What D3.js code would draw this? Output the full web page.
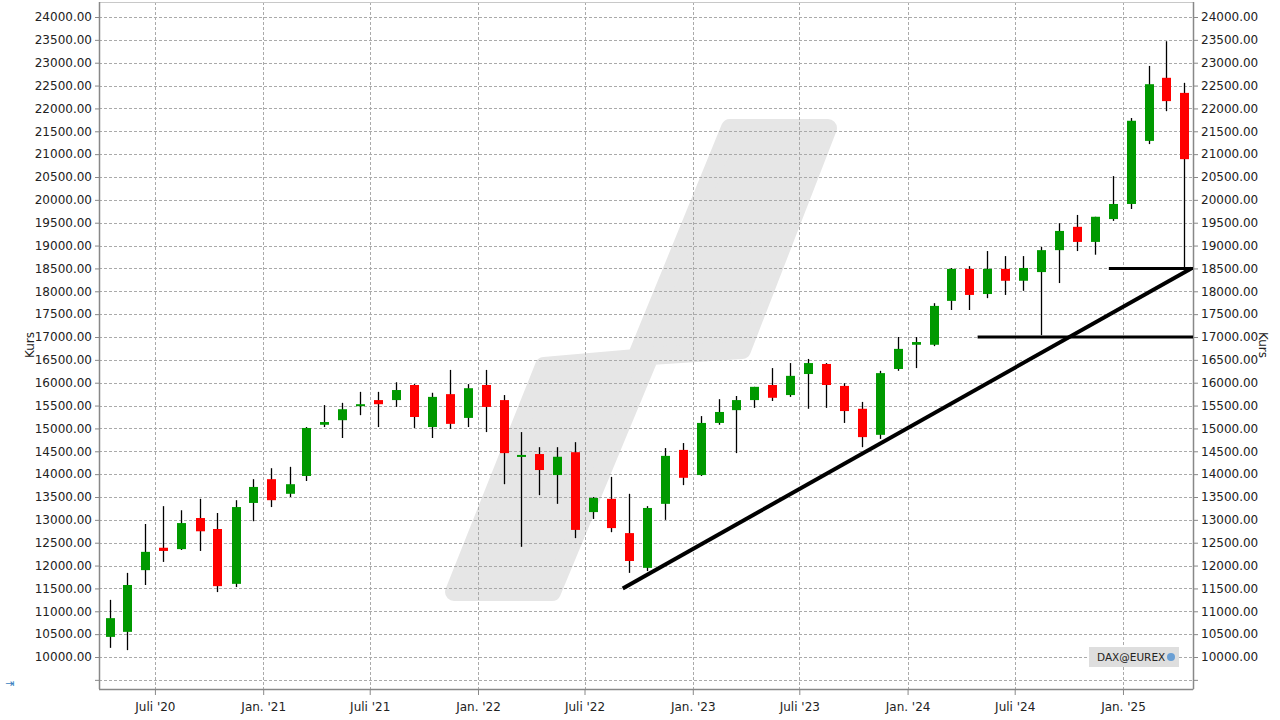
<!DOCTYPE html>
<html><head><meta charset="utf-8">
<script src="https://cdn.jsdelivr.net/npm/d3@7"></script>
<style>body{margin:0;background:#fff}text{font-family:"DejaVu Sans",sans-serif}</style>
</head><body><svg id="c" width="1280" height="720"></svg>
<script>
const months = ["2020-04","2020-05","2020-06","2020-07","2020-08","2020-09","2020-10","2020-11","2020-12",
"2021-01","2021-02","2021-03","2021-04","2021-05","2021-06","2021-07","2021-08","2021-09","2021-10","2021-11","2021-12",
"2022-01","2022-02","2022-03","2022-04","2022-05","2022-06","2022-07","2022-08","2022-09","2022-10","2022-11","2022-12",
"2023-01","2023-02","2023-03","2023-04","2023-05","2023-06","2023-07","2023-08","2023-09","2023-10","2023-11","2023-12",
"2024-01","2024-02","2024-03","2024-04","2024-05","2024-06","2024-07","2024-08","2024-09","2024-10","2024-11","2024-12",
"2025-01","2025-02","2025-03","2025-04"];
const open  = [10440,10550,11900,12390,12360,13040,12800,11600,13370,13890,13570,13960,15080,15180,15490,15620,15620,15950,15030,15750,15230,15950,15620,14380,14440,13980,14480,13170,13460,12710,11950,13350,14530,13980,15120,15400,15620,15950,15730,16190,16410,15930,15430,14860,16300,16830,16830,17790,18490,17940,18490,18230,18420,18900,19410,19080,19580,19910,21290,22670,22340];
const close = [10850,11575,12300,12320,12930,12750,11550,13280,13720,13430,13780,15010,15140,15420,15530,15530,15840,15250,15690,15100,15880,15470,14460,14420,14090,14380,12780,13480,12820,12100,13260,14400,13920,15120,15360,15620,15910,15670,16150,16430,15950,15380,14810,16210,16740,16890,17680,18490,17920,18490,18230,18510,18900,19320,19080,19630,19910,21730,22530,22160,20890];
const high  = [11250,11840,12910,13300,13210,13460,13150,13430,13890,14130,14160,15030,15510,15560,15800,15800,16010,15970,15780,16280,15970,16280,15730,14920,14590,14590,14700,13500,13940,13570,13300,14570,14680,15270,15640,15710,15910,16320,16430,16520,16430,15990,15580,16260,17000,17000,17740,18510,18550,18880,18770,18770,18970,19490,19670,19630,20520,21790,22930,23470,22560];
const low   = [10200,10150,11575,12080,12340,12320,11420,11530,12970,13280,13500,13850,15030,14790,15290,15030,15470,15010,14790,14990,15030,14920,13780,12410,13540,13350,12600,13020,12730,11840,11880,13000,13760,13960,15080,14460,15450,15600,15690,15430,15450,15120,14590,14770,16260,16320,16800,17590,17590,17850,17920,18010,17040,18180,18880,18800,19540,19800,21220,21940,18490];
const yTicks = d3.range(10000, 24001, 500);
const xTickDates = ["2020-07-01","2021-01-01","2021-07-01","2022-01-01","2022-07-01","2023-01-01","2023-07-01","2024-01-01","2024-07-01","2025-01-01"];
const xTickLabels = ["Juli '20","Jan. '21","Juli '21","Jan. '22","Juli '22","Jan. '23","Juli '23","Jan. '24","Juli '24","Jan. '25"];
const trendLine = [["2022-09-04",11500],["2025-04-27",18500]];
const hLines = [["2024-12-08","2025-04-30",18500],["2024-04-29","2025-04-30",17000]];

const svg = d3.select("#c");
const L=99,R=1193,T=2,B=689;
const x = d3.scaleTime().domain([new Date(2020,2,28), new Date(2025,3,30)]).range([L,R]);
const y = d3.scaleLinear().domain([10000,24000]).range([657,17]);
const pd = s => new Date(s.length>7? s+"T00:00" : s+"-15T00:00");

// watermark
svg.append("path").attr("d","M730,128 L828,128 L742,350 L650,356 L552,592 L454,592 L544,366 L636,358 Z")
  .attr("fill","#e6e6e6").attr("stroke","#e6e6e6").attr("stroke-width",18).attr("stroke-linejoin","round");

// grid
const gridY = [9500, ...yTicks];
svg.append("g").selectAll("line").data(gridY).join("line")
  .attr("x1",L).attr("x2",R).attr("y1",d=>Math.round(y(d))+.5).attr("y2",d=>Math.round(y(d))+.5)
  .attr("stroke","#aaa").attr("stroke-dasharray","3,2");
svg.append("g").selectAll("line").data(xTickDates).join("line")
  .attr("x1",d=>Math.round(x(pd(d)))+.5).attr("x2",d=>Math.round(x(pd(d)))+.5).attr("y1",T).attr("y2",B)
  .attr("stroke","#aaa").attr("stroke-dasharray","3,2");

// frame
svg.append("rect").attr("x",L+.5).attr("y",T+.5).attr("width",R-L).attr("height",B-T).attr("fill","none").attr("stroke","#c8c8c8");
svg.append("line").attr("x1",L+.5).attr("x2",L+.5).attr("y1",T).attr("y2",B).attr("stroke","#888").attr("stroke-width",1.5);
svg.append("line").attr("x1",R+.5).attr("x2",R+.5).attr("y1",T).attr("y2",B).attr("stroke","#888").attr("stroke-width",1.5);
svg.append("line").attr("x1",L).attr("x2",R).attr("y1",B+.5).attr("y2",B+.5).attr("stroke","#888").attr("stroke-width",1.5);

// axes
const ya = d3.axisLeft(y).tickValues(gridY).tickSize(4).tickFormat(d=>d<10000?"":d.toFixed(2));
const yb = d3.axisRight(y).tickValues(gridY).tickSize(4).tickFormat(d=>d<10000?"":d.toFixed(2));
const styleAx = g=>{g.select(".domain").remove();g.selectAll("line").attr("stroke","#888");g.selectAll("text").attr("font-size",12).attr("fill","#222").attr("font-family","DejaVu Sans, sans-serif");};
svg.append("g").attr("transform",`translate(${L},0)`).call(ya).call(styleAx);
svg.append("g").attr("transform",`translate(${R+1},0)`).call(yb).call(styleAx);
const xa = d3.axisBottom(x).tickValues(xTickDates.map(pd)).tickSize(5).tickFormat((d,i)=>xTickLabels[i]);
svg.append("g").attr("transform",`translate(0,${B+1})`).call(xa).call(styleAx).selectAll("text").attr("dy","1.1em");

svg.append("text").attr("transform","translate(34,345) rotate(-90)").attr("text-anchor","middle").attr("font-size",12).attr("fill","#222").text("Kurs");
svg.append("text").attr("transform","translate(1259,345) rotate(90)").attr("text-anchor","middle").attr("font-size",12).attr("fill","#222").text("Kurs");

// candles
const data = months.map((m,i)=>({d:pd(m),o:open[i],c:close[i],h:high[i],l:low[i]}));
const cg = svg.append("g");
cg.selectAll("line").data(data).join("line")
  .attr("x1",d=>Math.round(x(d.d))+.5).attr("x2",d=>Math.round(x(d.d))+.5)
  .attr("y1",d=>y(d.h)).attr("y2",d=>y(d.l)).attr("stroke","#000").attr("stroke-width",1.3);
cg.selectAll("rect").data(data).join("rect")
  .attr("x",d=>Math.round(x(d.d))-4).attr("width",9)
  .attr("y",d=>y(Math.max(d.o,d.c))).attr("height",d=>Math.max(2,Math.abs(y(d.o)-y(d.c))))
  .attr("fill",d=>d.c>=d.o?"#009900":"#ff0000");

// drawn lines
svg.append("line").attr("x1",x(pd(trendLine[0][0]))).attr("y1",y(trendLine[0][1]))
  .attr("x2",x(pd(trendLine[1][0]))).attr("y2",y(trendLine[1][1])).attr("stroke","#000").attr("stroke-width",4);
svg.append("g").selectAll("line").data(hLines).join("line")
  .attr("x1",d=>x(pd(d[0]))).attr("x2",d=>x(pd(d[1]))).attr("y1",d=>y(d[2])).attr("y2",d=>y(d[2])).attr("stroke","#000").attr("stroke-width",3);

// label box
svg.append("rect").attr("x",1089).attr("y",647).attr("width",90).attr("height",20).attr("fill","#dedede");
svg.append("text").attr("x",1097).attr("y",661).attr("font-size",10.5).attr("fill","#222").text("DAX@EUREX");
svg.append("circle").attr("cx",1171).attr("cy",657).attr("r",4).attr("fill","#6a9fd4");
svg.append("text").attr("x",5).attr("y",687).attr("font-size",11).attr("fill","#3a7fc0").text("⇥");
</script></body></html>
